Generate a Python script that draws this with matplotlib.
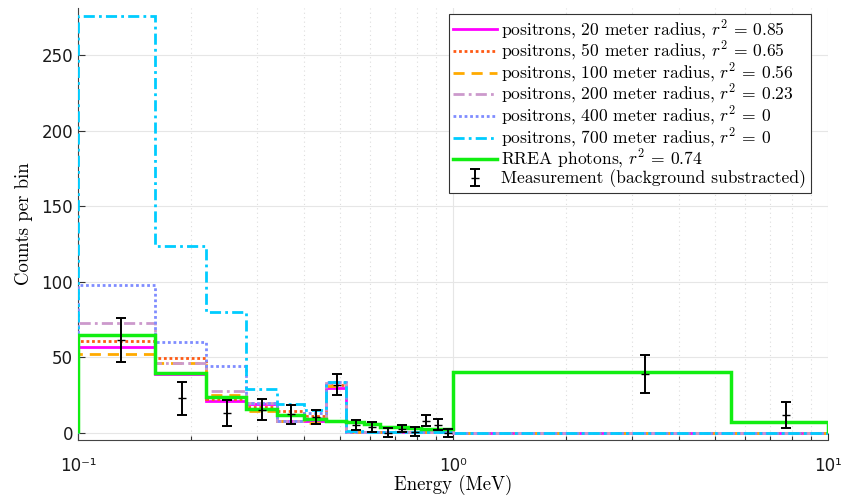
import numpy as np
import matplotlib
matplotlib.use('Agg')
import matplotlib.pyplot as plt
from matplotlib.lines import Line2D
from matplotlib.ticker import FixedLocator, FuncFormatter

plt.rcParams['mathtext.fontset'] = 'cm'
plt.rcParams['font.family'] = ['cmr10', 'DejaVu Serif']
plt.rcParams['axes.unicode_minus'] = False

# bin edges (MeV)
EDGES = [0.10, 0.16, 0.22, 0.28, 0.34, 0.40, 0.46, 0.52, 0.58, 0.64,
         0.70, 0.76, 0.82, 0.88, 0.94, 1.00, 5.5, 10.0]

# simulated spectra, counts per bin
POS_20 = [57, 39, 21, 19, 8, 8, 30, 1, 0.5, 0.5, 0.5, 0.5, 0.5, 0.5, 0.5, 0.2, 0.2]
POS_50 = [61, 49.5, 22.5, 17, 14.5, 11, 32, 1, 0.5, 0.5, 0.5, 0.5, 0.5, 0.5, 0.5, 0.2, 0.2]
POS_100 = [52, 46.5, 25, 14.5, 8, 6.5, 31, 1, 0.5, 0.5, 0.5, 0.5, 0.5, 0.5, 0.5, 0.2, 0.2]
POS_200 = [73, 46.5, 28, 20, 8, 10, 33, 1, 0.5, 0.5, 0.5, 0.5, 0.5, 0.5, 0.5, 0.2, 0.2]
POS_400 = [98, 60.5, 44.5, 20, 8, 13, 34, 1, 0.5, 0.5, 0.5, 0.5, 0.5, 0.5, 0.5, 0.2, 0.2]
POS_700 = [276, 123.5, 80, 29, 19, 15, 34, 1.5, 0.5, 0.5, 0.5, 0.5, 0.5, 0.5, 0.5, 0.2, 0.2]
RREA = [64.5, 40, 24, 16, 12, 9.5, 8, 7, 6, 4, 4, 3.5, 3, 3, 3, 40.5, 7.5]

# measurement (background substracted)
MEAS_E = [0.13, 0.19, 0.25, 0.31, 0.37, 0.43, 0.49, 0.55, 0.61, 0.67,
          0.73, 0.79, 0.85, 0.91, 0.97, 3.25, 7.75]
MEAS = [61.5, 23, 13, 15.5, 12.5, 10.5, 32, 5.3, 4, 0.2, 3, 1, 8.3, 5.5, 0, 39, 12]
MEAS_ERR = [14.5, 10.8, 8.6, 7, 6.2, 4.8, 7, 3.3, 3.5, 3, 2.6, 2.8, 3.4, 3.5, 2.5, 12.5, 8.6]

R2 = ['0.85', '0.65', '0.56', '0.23', '0', '0']
RADII = [20, 50, 100, 200, 400, 700]

series = [POS_20, POS_50, POS_100, POS_200, POS_400, POS_700]
colors = ['#ff00ff', '#ff5a14', '#ffaa00', '#cc99cc', '#7f8cff', '#00ccff']
styles = ['-', (0, (1, 1)), (0, (4, 2.5)), (0, (4, 1.5, 1, 1.5)), (0, (1, 1)), (0, (4, 1.5, 1, 1.5))]

fig = plt.figure(figsize=(8.41, 4.99), dpi=100)
ax = fig.add_axes([0.0927, 0.1182, 0.8918, 0.8658])

handles = []
for vals, c, ls, rad, r2 in zip(series, colors, styles, RADII, R2):
    ax.stairs(vals, EDGES, baseline=0, color=c, linestyle=ls, linewidth=2.0, zorder=3)
    handles.append(Line2D([], [], color=c, linestyle=ls, linewidth=2.0,
                          label='positrons, %d meter radius, $r^2$ = %s' % (rad, r2)))

ax.stairs(RREA, EDGES, baseline=0, color='#11ee11', linewidth=2.5, zorder=4)
handles.append(Line2D([], [], color='#11ee11', linewidth=2.5,
                      label='RREA photons, $r^2$ = 0.74'))

eb = ax.errorbar(MEAS_E, MEAS, yerr=MEAS_ERR, fmt='_', color='k', markersize=6,
                 elinewidth=1.4, capsize=3.5, capthick=1.4, zorder=5,
                 label='Measurement (background substracted)')
handles.append(eb)

ax.set_xscale('log')
ax.set_xlim(0.1, 10)
ax.set_ylim(-4.6, 281)

# ticks like the original: decades only, sans labels
ax.xaxis.set_major_locator(FixedLocator([0.1, 1, 10]))
ax.xaxis.set_minor_locator(FixedLocator([0.2, 0.3, 0.4, 0.5, 0.6, 0.7, 0.8, 0.9,
                                         2, 3, 4, 5, 6, 7, 8, 9]))
sup = {0.1: '10\u207b\u00b9', 1: '10\u2070', 10: '10\u00b9'}
ax.xaxis.set_major_formatter(FuncFormatter(lambda v, p: sup.get(round(v, 3), '')))
ax.set_yticks([0, 50, 100, 150, 200, 250])
for lab in ax.get_xticklabels() + ax.get_yticklabels():
    lab.set_family('DejaVu Sans')
    lab.set_fontsize(12)
    lab.set_color('#1a1a1a')

ax.tick_params(which='both', direction='in', color='#333333')
ax.tick_params(which='major', length=5, width=0.8)
ax.tick_params(which='minor', length=3, width=0.8)
ax.tick_params(axis='x', pad=12)

ax.grid(True, which='major', color='#e6e6e6', linewidth=0.8, linestyle='-')
ax.grid(True, which='minor', axis='x', color='#dddddd', linewidth=0.8, linestyle=(0, (1, 3)))
ax.set_axisbelow(True)

for s in ['top', 'right']:
    ax.spines[s].set_visible(False)
for s in ['left', 'bottom']:
    ax.spines[s].set_color('#444444')
    ax.spines[s].set_linewidth(0.8)

ax.set_xlabel('Energy (MeV)', fontsize=13.5, labelpad=0)
ax.set_ylabel('Counts per bin', fontsize=13.5, labelpad=6)

leg = ax.legend(handles=handles, loc='upper right', bbox_to_anchor=(0.977, 0.986),
                borderaxespad=0, fontsize=12.6, frameon=True, fancybox=False,
                handlelength=2.5, handletextpad=0.25, labelspacing=-0.09,
                borderpad=0.25, framealpha=1)
leg.get_frame().set_edgecolor('#333333')
leg.get_frame().set_linewidth(0.8)

fig.savefig('out.png', dpi=100)
